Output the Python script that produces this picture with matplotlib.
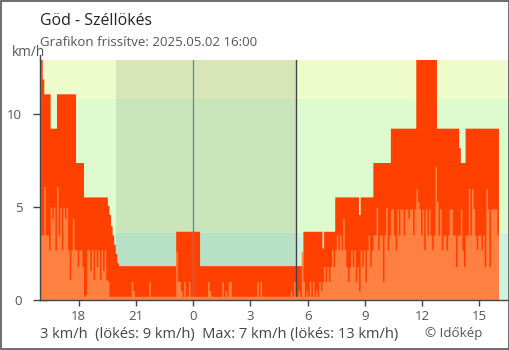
import numpy as np
import matplotlib
matplotlib.use("Agg")
import matplotlib.pyplot as plt
from matplotlib.patches import Rectangle

# ---------------- texts ----------------
title = "Göd - Széllökés"
subtitle = "Grafikon frissítve: 2025.05.02 16:00"
unit_label = "km/h"
summary = "3 km/h  (lökés: 9 km/h)  Max: 7 km/h (lökés: 13 km/h)"
credit = "© Időkép"

# ---------------- data ----------------
# hours relative to midnight; series start 16:00 previous day, 5-minute samples
start_hour = -8.0
step_hours = 5 / 60

# gusts (km/h), one row = one hour
gust = [
    12.96, 11.9, 11.1, 11.1, 11.1, 11.1, 9.25, 9.25, 9.25, 9.25, 11.1, 11.1,
    11.1, 11.1, 11.1, 11.1, 11.1, 11.1, 11.1, 11.1, 11.1, 11.1, 7.4, 7.4,
    7.4, 7.4, 7.4, 5.55, 5.55, 5.55, 5.55, 5.55, 5.55, 5.55, 5.55, 5.55,
    5.55, 5.55, 5.55, 5.55, 5.55, 5.55, 5.1, 4.6, 4.0, 3.5, 3.0, 2.5,
    2.0, 1.85, 1.85, 1.85, 1.85, 1.85, 1.85, 1.85, 1.85, 1.85, 1.85, 1.85,
    1.85, 1.85, 1.85, 1.85, 1.85, 1.85, 1.85, 1.85, 1.85, 1.85, 1.85, 1.85,
    1.85, 1.85, 1.85, 1.85, 1.85, 1.85, 1.85, 1.85, 1.85, 1.85, 1.85, 1.85,
    1.85, 3.7, 3.7, 3.7, 3.7, 3.7, 3.7, 3.7, 3.7, 3.7, 3.7, 3.7,
    3.7, 3.7, 3.7, 3.7, 1.85, 1.85, 1.85, 1.85, 1.85, 1.85, 1.85, 1.85,
    1.85, 1.85, 1.85, 1.85, 1.85, 1.85, 1.85, 1.85, 1.85, 1.85, 1.85, 1.85,
    1.85, 1.85, 1.85, 1.85, 1.85, 1.85, 1.85, 1.85, 1.85, 1.85, 1.85, 1.85,
    1.85, 1.85, 1.85, 1.85, 1.85, 1.85, 1.85, 1.85, 1.85, 1.85, 1.85, 1.85,
    1.85, 1.85, 1.85, 1.85, 1.85, 1.85, 1.85, 1.85, 1.85, 1.85, 1.85, 1.85,
    1.85, 1.85, 1.85, 1.85, 1.85, 1.85, 1.85, 1.85, 1.85, 3.7, 3.7, 3.7,
    3.7, 3.7, 3.7, 3.7, 3.7, 3.7, 3.7, 3.7, 3.7, 2.8, 3.7, 3.7,
    3.7, 3.7, 3.7, 3.7, 3.7, 5.55, 5.55, 5.55, 5.55, 5.55, 5.55, 5.55,
    5.55, 5.55, 5.55, 5.55, 5.55, 5.55, 5.55, 5.55, 4.6, 5.55, 5.55, 5.55,
    5.55, 5.55, 5.55, 5.55, 5.55, 7.4, 7.4, 7.4, 7.4, 7.4, 7.4, 7.4,
    7.4, 7.4, 7.4, 7.4, 9.25, 9.25, 9.25, 9.25, 9.25, 9.25, 9.25, 9.25,
    9.25, 9.25, 9.25, 9.25, 9.25, 9.25, 9.25, 9.25, 12.96, 12.96, 12.96, 12.96,
    12.96, 12.96, 12.96, 12.96, 12.96, 12.96, 12.96, 12.96, 12.96, 9.25, 9.25, 9.25,
    9.25, 9.25, 9.25, 9.25, 9.25, 9.25, 9.25, 9.25, 9.25, 9.25, 9.25, 8.2,
    7.4, 7.4, 7.4, 9.25, 9.25, 9.25, 9.25, 9.25, 9.25, 9.25, 9.25, 9.25,
    9.25, 9.25, 9.25, 9.25, 9.25, 9.25, 9.25, 9.25, 9.25, 9.25, 9.25, 9.25,
]

# mean wind (km/h), one row = one hour
wind = [
    3.5, 3.5, 6.1, 3.5, 3.5, 2.7, 5.0, 4.4, 5.0, 2.7, 6.1, 3.5,
    5.0, 2.7, 5.0, 4.4, 5.0, 2.7, 1.1, 2.7, 4.4, 2.7, 2.7, 1.8,
    2.7, 2.7, 1.8, 0.2, 0.3, 2.7, 2.7, 1.6, 2.7, 1.1, 2.7, 1.8,
    2.7, 1.1, 2.7, 1.6, 2.7, 1.1, 1.0, 0.2, 0.2, 0.2, 0.2, 0.2,
    0.2, 0.2, 0.2, 0.2, 0.2, 0.2, 0.2, 0.2, 0.2, 1.0, 0.5, 0.2,
    0.2, 0.2, 0.2, 0.2, 0.2, 0.2, 0.2, 0.2, 1.0, 0.2, 0.2, 0.2,
    0.2, 0.2, 0.2, 0.2, 0.2, 0.2, 0.2, 0.2, 0.2, 0.2, 0.2, 0.2,
    0.2, 2.6, 1.0, 1.0, 0.5, 0.2, 1.0, 0.2, 0.2, 1.0, 0.2, 0.2,
    0.2, 0.2, 0.2, 0.2, 0.2, 0.2, 0.2, 0.2, 0.2, 1.0, 0.5, 0.2,
    0.2, 0.2, 0.2, 0.2, 0.2, 0.2, 1.0, 0.2, 0.5, 0.2, 1.0, 1.0,
    0.2, 0.2, 0.2, 0.2, 0.2, 0.2, 0.2, 0.2, 0.2, 0.2, 0.2, 0.2,
    0.2, 0.2, 0.2, 0.2, 1.0, 0.2, 1.0, 0.2, 0.2, 0.2, 0.2, 0.2,
    0.2, 0.2, 0.2, 0.2, 0.2, 0.2, 0.2, 0.2, 0.2, 0.2, 0.2, 0.2,
    0.2, 0.5, 0.2, 1.0, 0.2, 0.2, 0.5, 0.2, 2.6, 1.0, 0.2, 0.5,
    0.2, 1.0, 0.2, 1.0, 0.2, 0.5, 0.2, 1.0, 0.5, 1.0, 1.8, 1.0,
    1.8, 1.0, 1.8, 2.7, 1.8, 2.7, 3.5, 2.7, 3.5, 2.7, 4.4, 2.7,
    1.8, 1.0, 1.8, 2.7, 1.8, 2.7, 1.0, 1.8, 0.5, 2.7, 1.8, 2.7,
    1.0, 2.7, 3.5, 1.8, 2.7, 3.5, 3.5, 5.0, 2.7, 3.5, 3.5, 1.0,
    3.5, 5.0, 2.7, 3.5, 4.9, 4.9, 3.5, 2.7, 4.9, 3.5, 4.9, 4.9,
    3.5, 4.9, 4.9, 4.4, 4.9, 4.9, 3.5, 4.9, 6.0, 5.3, 4.9, 3.5,
    4.9, 2.7, 4.9, 3.5, 4.9, 3.5, 2.7, 3.5, 7.2, 5.3, 3.5, 4.9,
    2.7, 3.5, 3.5, 2.7, 3.5, 4.9, 4.9, 3.5, 3.5, 1.8, 3.5, 3.5,
    4.9, 2.7, 1.8, 3.5, 3.5, 6.0, 3.5, 6.0, 4.9, 3.5, 2.7, 3.5,
    3.5, 2.7, 3.5, 1.8, 6.0, 4.9, 1.8, 4.9, 4.9, 4.9, 4.9, 3.5,
]

xtick_hours = [-6, -3, 0, 3, 6, 9, 12, 15]
xtick_labels = ["18", "21", "0", "3", "6", "9", "12", "15"]
ytick_values = [0, 5, 10]

band_edges = [0, 3.6, 10.8, 13.5]
band_colors = ["#c9f5dc", "#dcfcd0", "#eefccc"]
sunset_hour = -4.05
sunrise_hour = 5.38

# ---------------- figure ----------------
W, H = 510, 350
fig = plt.figure(figsize=(W / 100, H / 100), dpi=100)
fig.patch.set_facecolor("white")
ax = fig.add_axes([40 / W, 50 / H, 468 / W, 240 / H])

FONT = "Open Sans"
GREY = "#555555"
DARK = "#444444"

x0, x1 = -8.03, 16.5
y0, y1 = 0, 12.92
ax.set_xlim(x0, x1)
ax.set_ylim(y0, y1)

for lo, hi, c in zip(band_edges[:-1], band_edges[1:], band_colors):
    ax.axhspan(lo, hi, color=c, lw=0, zorder=0)
ax.axvspan(sunset_hour, sunrise_hour, color="#1e2a00", alpha=0.10, lw=0, zorder=1)

n = len(gust)
t = start_hour + np.arange(n + 1) * step_hours
g = np.r_[gust, gust[-1]]
w = np.r_[wind, wind[-1]]
ax.fill_between(t, 0, g, step="post", color="#ff4000", lw=0, zorder=2)
ax.axvline(0, color="#4a88b8", lw=0.9, zorder=3)
ax.axvline(sunrise_hour, color="#444444", lw=1, zorder=3)
ax.fill_between(t, 0, w, step="post", color="#ff8040", lw=0, zorder=4)

for s in ["top", "right"]:
    ax.spines[s].set_visible(False)
for s in ["left", "bottom"]:
    ax.spines[s].set_color(DARK)
    ax.spines[s].set_linewidth(1)
    ax.spines[s].set_zorder(5)
# left axis line extends slightly above the plot
ax.plot([x0, x0], [y1, y1 + 0.25], color=DARK, lw=1, clip_on=False, zorder=5)

ax.set_xticks(xtick_hours)
ax.set_xticklabels(xtick_labels)
ax.set_yticks(ytick_values)
ax.set_yticklabels([str(v) for v in ytick_values])
ax.tick_params(axis="x", direction="inout", length=9, width=1, color=DARK,
               labelsize=9.5, labelcolor=GREY, pad=3)
ax.tick_params(axis="y", direction="inout", length=9.5, width=1, color=DARK,
               labelsize=9.5, labelcolor=GREY, pad=8)
for lab in ax.get_xticklabels() + ax.get_yticklabels():
    lab.set_fontfamily(FONT)
ax.xaxis.get_major_ticks()[xtick_hours.index(0)].tick1line.set_color("#4a88b8")

fig.text(40 / W, 1 - 25 / H, title, fontsize=11.4, color="#222222",
         family=FONT, va="baseline", ha="left")
fig.text(40 / W, 1 - 45.5 / H, subtitle, fontsize=9.5, color=GREY,
         family=FONT, va="baseline", ha="left")
fig.text(12 / W, 1 - 56 / H, unit_label, fontsize=9.8, color=GREY,
         family=FONT, va="baseline", ha="left")
fig.text(40 / W, 1 - 338 / H, summary, fontsize=10.5, color=DARK,
         family=FONT, va="baseline", ha="left")
fig.text(425 / W, 1 - 336.5 / H, credit, fontsize=9.6, color=GREY,
         family=FONT, va="baseline", ha="left")

fig.add_artist(Rectangle((0.001, 0.002), 0.9965, 0.996, transform=fig.transFigure,
                         fill=False, edgecolor="#555555", lw=1.2))

fig.savefig("out.png", dpi=100)
